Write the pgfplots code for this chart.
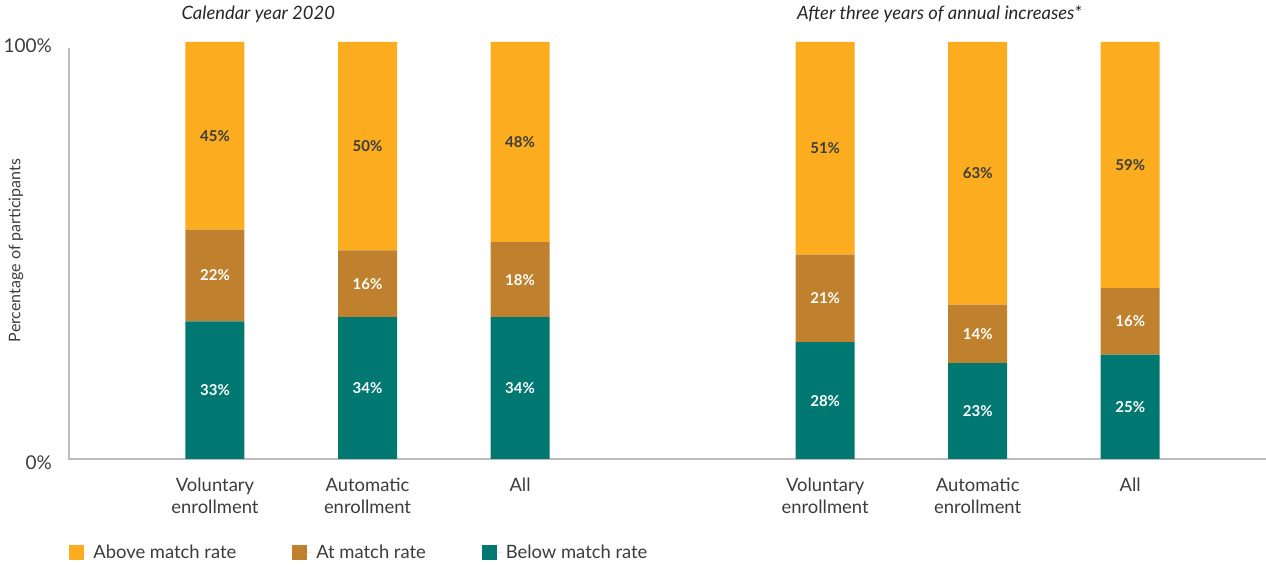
\documentclass[border=0pt]{standalone}
\usepackage{fontspec}
\setmainfont{Lato}
\usepackage{pgfplots}
\pgfplotsset{compat=1.18}
\definecolor{above}{HTML}{FBAD1F}
\definecolor{atrate}{HTML}{BF812D}
\definecolor{below}{HTML}{007872}
\definecolor{txt}{HTML}{3C3C3C}
\definecolor{axisgray}{HTML}{BDBDBD}

\begin{document}
\begin{tikzpicture}
\path[use as bounding box] (-34.5pt,-53pt) rectangle (598.5pt,229.5pt);
\begin{axis}[
  scale only axis,
  width=598.5pt, height=208.5pt,
  xmin=-0.957, xmax=6.89,
  ymin=0, ymax=100,
  ybar stacked,
  bar width=29.5pt,
  clip=false,
  axis x line*=bottom, axis y line*=left,
  axis line style={draw=none},
  major tick length=0pt,
  xtick={0,1,2,4,5,6},
  xticklabels={{Voluntary\\enrollment},{Automatic\\enrollment},All,{Voluntary\\enrollment},{Automatic\\enrollment},All},
  xticklabel style={align=center, font=\fontsize{9.2}{11}\selectfont, text=txt, yshift=-6pt},
  ytick={0,100},
  yticklabels={0\%,100\%},
  yticklabel style={font=\fontsize{9.5}{11}\selectfont, text=txt, xshift=-5pt, yshift=-1.75pt},
  every axis y label/.style={at={(axis description cs:-0.0443,0.5)}, rotate=90, anchor=center,
    font=\fontsize{8}{10}\selectfont, text=txt},
  ylabel={Percentage of participants},
  visualization depends on={rawy \as \rawy},
  nodes near coords={\pgfmathprintnumber[assume math mode=true,fixed,precision=0]{\rawy}\%},
  every node near coord/.append style={anchor=center, font=\fontsize{7.5}{9}\selectfont\bfseries},
  legend style={at={(axis description cs:0,-0.2254)}, anchor=west, draw=none, inner sep=0pt,
    font=\fontsize{9.2}{11}\selectfont, text=txt,
    /tikz/every even column/.append style={column sep=26pt}},
  legend columns=3,
  reverse legend,
  legend image code/.code={\fill[#1] (0pt,-3.75pt) rectangle (7.5pt,3.75pt); \path (0pt,0pt) -- (10pt,0pt);},
]
\addplot[fill=below, draw=none, every node near coord/.append style={text=white}]
  coordinates {(0,33) (1,34) (2,34) (4,28) (5,23) (6,25)};
\addplot[fill=atrate, draw=none, every node near coord/.append style={text=white}]
  coordinates {(0,22) (1,16) (2,18) (4,21) (5,14) (6,16)};
\addplot[fill=above, draw=none, every node near coord/.append style={text=txt}]
  coordinates {(0,45) (1,50) (2,48) (4,51) (5,63) (6,59)};
\legend{Below match rate, At match rate, Above match rate}

\draw[axisgray, line width=1pt] (axis cs:-0.957,98.56) -- (axis cs:-0.957,0) -- (axis cs:6.89,0);
\node[anchor=base west, font=\fontsize{9.2}{11}\itshape, text=black!85] at (axis cs:-0.265,105.3) {Calendar year 2020};
\node[anchor=base west, font=\fontsize{9.2}{11}\itshape, text=black!85] at (axis cs:3.77,105.3) {After three years of annual increases*};
\end{axis}
\end{tikzpicture}
\end{document}
